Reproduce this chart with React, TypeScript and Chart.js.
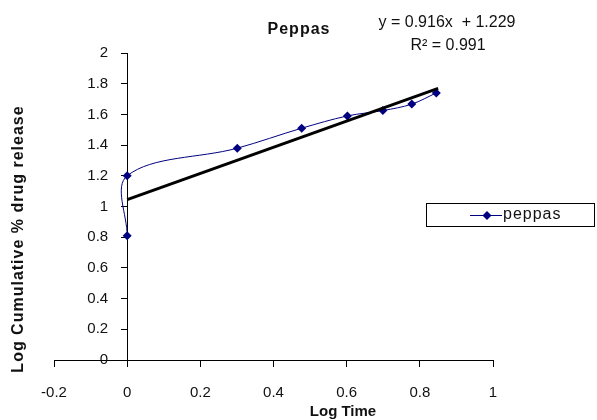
import React, { useEffect, useRef } from "react";
import { Chart, registerables } from "chart.js";

Chart.register(...registerables);

// ---- data ----
const logTime = [0, 0, 0.301, 0.477, 0.602, 0.699, 0.778, 0.845];
const logRelease = [0.81, 1.2, 1.38, 1.51, 1.59, 1.625, 1.667, 1.74];
const trendX = [0, 0.85];
const trendY = [1.045, 1.77];
const xTickValues = [-0.2, 0, 0.2, 0.4, 0.6, 0.8, 1];
const xTickLabels = ["-0.2", "0", "0.2", "0.4", "0.6", "0.8", "1"];
const yTickValues = [0, 0.2, 0.4, 0.6, 0.8, 1, 1.2, 1.4, 1.6, 1.8, 2];
const yTickLabels = ["0", "0.2", "0.4", "0.6", "0.8", "1", "1.2", "1.4", "1.6", "1.8", "2"];
const chartTitle = "Peppas";
const equationText = "y = 0.916x  + 1.229";
const r2Text = "R² = 0.991";
const xTitle = "Log Time";
const yTitle = "Log Cumulative % drug release";
const seriesName = "peppas";

const NAVY = "#000080";
const FONT = "'Liberation Sans', Arial, sans-serif";

const shiftLabelsPlugin = {
  id: "shiftYLabels",
  beforeDraw(chart: any) {
    const s = chart.scales.y;
    const items = s.getLabelItems();
    if ((items as any)._shifted) return;
    items.forEach((it: any) => {
      const t = it.options.translation;
      it.options.translation = [t[0] - 19, t[1]];
    });
    (items as any)._shifted = true;
  },
};

const overlayPlugin = {
  id: "overlay",
  afterDraw(chart: any) {
    const ctx = chart.ctx as any;
    ctx.save();
    ctx.fillStyle = "#111";
    ctx.textBaseline = "middle";
    ctx.textAlign = "center";
    // title
    ctx.letterSpacing = "1px";
    ctx.font = `bold 16px ${FONT}`;
    ctx.fillText(chartTitle, 299, 30);
    ctx.letterSpacing = "0px";
    // equation
    ctx.font = `16px ${FONT}`;
    ctx.fillText(equationText, 447, 23);
    ctx.fillText(r2Text, 448, 46);
    // x title
    ctx.font = `bold 15px ${FONT}`;
    ctx.fillText(xTitle, 343, 412);
    // y title
    ctx.save();
    ctx.translate(19, 239);
    ctx.rotate(-Math.PI / 2);
    ctx.letterSpacing = "1px";
    ctx.font = `bold 16px ${FONT}`;
    ctx.fillText(yTitle, 0, 0);
    ctx.restore();
    // legend
    ctx.strokeStyle = "#000";
    ctx.lineWidth = 1;
    ctx.strokeRect(426.5, 203.5, 168, 23);
    ctx.strokeStyle = NAVY;
    ctx.beginPath();
    ctx.moveTo(470, 215.5);
    ctx.lineTo(502, 215.5);
    ctx.stroke();
    ctx.fillStyle = NAVY;
    ctx.beginPath();
    ctx.moveTo(487, 211);
    ctx.lineTo(491.5, 215.5);
    ctx.lineTo(487, 220);
    ctx.lineTo(482.5, 215.5);
    ctx.closePath();
    ctx.fill();
    ctx.fillStyle = "#111";
    ctx.textAlign = "left";
    ctx.letterSpacing = "1px";
    ctx.font = `16px ${FONT}`;
    ctx.fillText(seriesName, 503, 215);
    ctx.restore();
  },
};

export default function App() {
  const ref = useRef<HTMLCanvasElement | null>(null);
  useEffect(() => {
    if (!ref.current) return;
    const chart = new Chart(ref.current, {
      type: "scatter",
      data: {
        datasets: [
          {
            label: "trend",
            data: trendX.map((x, i) => ({ x, y: trendY[i] })),
            showLine: true,
            borderColor: "#000",
            borderWidth: 3,
            pointRadius: 0,
            tension: 0,
          },
          {
            label: seriesName,
            data: logTime.map((x, i) => ({ x, y: logRelease[i] })),
            showLine: true,
            borderColor: NAVY,
            backgroundColor: NAVY,
            borderWidth: 1,
            pointStyle: "rectRot",
            pointRadius: 4.5,
            pointBorderWidth: 0,
            tension: 0.35,
          },
        ],
      },
      options: {
        animation: false,
        responsive: false,
        devicePixelRatio: 1,
        layout: { padding: { left: 54, right: 104, top: 53, bottom: 60 } },
        plugins: { legend: { display: false }, title: { display: false }, tooltip: { enabled: false } },
        scales: {
          x: {
            type: "linear",
            min: -0.2,
            max: 1,
            position: { y: 0 } as any,
            afterBuildTicks: (s: any) => {
              s.ticks = xTickValues.map((v) => ({ value: v }));
            },
            ticks: {
              callback: (_v: any, i: number) => xTickLabels[i],
              color: "#111",
              font: { family: FONT, size: 15 },
              padding: 18,
              maxRotation: 0,
              autoSkip: false,
            },
            grid: { display: true, drawOnChartArea: false, drawTicks: true, tickLength: 6, color: "#000" },
            border: { display: true, color: "#000", width: 1 },
          },
          y: {
            type: "linear",
            min: 0,
            max: 2,
            position: { x: 0 } as any,
            afterBuildTicks: (s: any) => {
              s.ticks = yTickValues.map((v) => ({ value: v }));
            },
            ticks: {
              callback: (_v: any, i: number) => yTickLabels[i],
              color: "#111",
              font: { family: FONT, size: 15 },
              padding: 13,
              autoSkip: false,
            },
            grid: { display: true, drawOnChartArea: false, drawTicks: true, tickLength: 6, color: "#000" },
            border: { display: true, color: "#000", width: 1 },
          },
        },
      },
      plugins: [shiftLabelsPlugin, overlayPlugin],
    });
    return () => chart.destroy();
  }, []);
  return (
    <div style={{ position: "absolute", left: 0, top: 0, width: 597, height: 420, background: "#fff" }}>
      <canvas ref={ref} width={597} height={420} style={{ width: 597, height: 420, display: "block" }} />
    </div>
  );
}
